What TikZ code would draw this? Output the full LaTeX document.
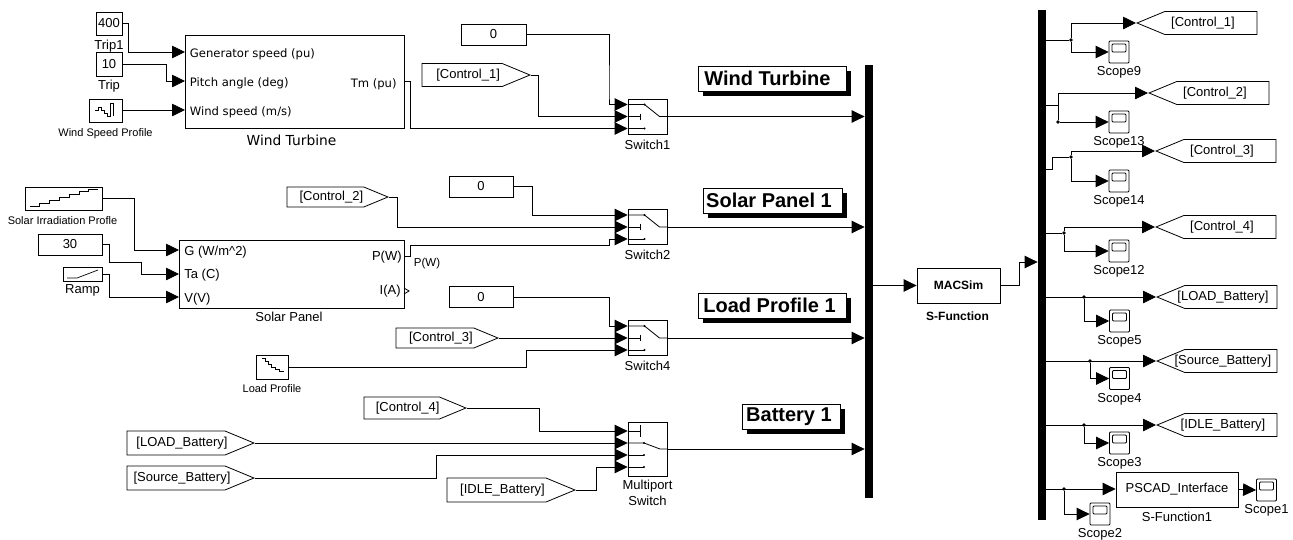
\documentclass[tikz,border=0pt]{standalone}
\usepackage{fontspec}
\setmainfont{Liberation Sans}
\newfontfamily\dvfont{DejaVu Sans}
\usetikzlibrary{positioning,arrows.meta,calc,shapes.symbols}
\newcommand{\fromtxt}[1]{\makebox[0pt]{\hspace{12pt}#1}}
\newcommand{\gototxt}[1]{\makebox[0pt]{#1\hspace{16pt}}}
\begin{document}
\begin{tikzpicture}[
  x=1pt, y=-1pt,
  font=\fontsize{13}{15}\selectfont,
  >={Triangle[length=13pt,width=12.5pt]},
  line width=0.8pt,
  block/.style={draw, minimum width=#1, inner sep=0pt, align=center},
  title/.style={draw, fill=white, inner sep=0pt, font=\fontsize{20}{22}\selectfont\bfseries},
  shadowbox/.style={fill=black},
  capt/.style={inner sep=0pt, align=center},
  smallcapt/.style={capt, font=\fontsize{11}{13}\selectfont},
  turbport/.style={inner sep=0pt, font=\dvfont\fontsize{11.6}{13}\selectfont},
  solarport/.style={inner sep=0pt, font=\fontsize{13}{15}\selectfont},
  bus/.style={fill=black, minimum width=8pt, inner sep=0pt},
  dot/.style={circle, fill=black, inner sep=0pt, minimum size=3.6pt},
  fromtag/.style={signal, signal to=east, signal from=nowhere, signal pointer angle=45, draw, inner sep=0pt, anchor=east},
  gototag/.style={signal, signal to=west, signal from=nowhere, signal pointer angle=45, draw, inner sep=0pt, anchor=west},
  scopebox/.style={draw, rounded corners=1pt, minimum width=20pt, minimum height=22pt, inner sep=0pt,
    path picture={\draw ([shift={(3,3)}]path picture bounding box.north west) rectangle ([shift={(-3,11)}]path picture bounding box.north east);}},
  switchbox/.style={draw, minimum width=39pt, minimum height=35pt, inner sep=0pt},
  arr/.style={->},
  swicon/.pic={
    \draw (-19.5,-12) -- (-3,-12) -- (12,0) -- (19.5,0);
    \draw (-19.5,0) -- (-7,0) (-7,-3) -- (-7,3);
    \draw (-19.5,12) -- (-3,12);
    \fill (-3,-12) circle (1.2) (-3,12) circle (1.2);
  },
]
\useasboundingbox (0,0) rectangle (1293,539);

% Wind turbine inputs
\node[block=26pt, minimum height=23pt] (tripone) at (109,23.5) {400};
\node[capt, below=4pt of tripone] (triponelbl) {Trip1};
\node[block=26pt, minimum height=24pt] (trip) at (109,64) {10};
\node[capt, below=3pt of trip] (triplbl) {Trip};
\node[block=33pt, minimum height=23pt] (windprof) at (105.5,110.5) {};
\draw[line width=0.7pt] (95,110) -- ++(3,0) -- ++(0,-3) -- ++(3,0) -- ++(0,3) -- ++(3,0) -- ++(0,3) -- ++(3,0) -- ++(0,3) -- ++(3,0) -- ++(0,-13) -- ++(3,0) -- ++(0,13);
\node[smallcapt, below=6pt of windprof] (windproflbl) {Wind Speed Profile};

% Wind turbine block
\node[block=219pt, minimum height=93pt] (turbine) at (294.5,81.5) {};
\node[capt, font=\dvfont\fontsize{13.8}{15}\selectfont, below=6pt of turbine, xshift=-3pt] (turbinelbl) {Wind Turbine};
\node[turbport, anchor=west] (genport) at (189.5,54) {Generator speed (pu)};
\node[turbport, anchor=west] (pitchport) at (189.5,83) {Pitch angle (deg)};
\node[turbport, anchor=west] (speedport) at (189.5,112) {Wind speed (m/s)};
\node[turbport, anchor=east] (tmport) at (397,84) {Tm (pu)};
\coordinate (genin) at (185,52);
\coordinate (pitchin) at (185,81);
\coordinate (speedin) at (185,110);
\coordinate (tmout) at (404,81);
\draw[arr] (tripone.east) -- ++(6,0) |- (genin);
\draw[arr] (trip.east) -- ++(44,0) |- (pitchin);
\draw[arr] (windprof.east |- speedin) -- (speedin);

% Switch1
\node[block=65pt, minimum height=21pt] (zeroone) at (493.5,34.5) {0};
\node[fromtag, minimum width=108pt, minimum height=23pt] (ctrlone) at (531,75) {\fromtxt{[Control\_1]}};
\node[switchbox] (swone) at (647.5,116.5) {};
\pic at (swone.center) {swicon};
\node[capt, below=5pt of swone] (swonelbl) {Switch1};
\draw[arr] (zeroone.east) -| (609,95) |- ([yshift=12pt]swone.west);
\draw[arr] (ctrlone.east) -- ++(7,0) |- (swone.west);
\draw[arr] (tmout) -- ++(6,0) |- ([yshift=-12pt]swone.west);

% Solar panel inputs
\node[block=77pt, minimum height=23pt] (irrad) at (63.5,198.5) {};
\draw[line width=0.7pt] (30,206) -- ++(9,0) -- ++(0,-3) -- ++(10,0) -- ++(0,-3) -- ++(10,0) -- ++(0,-3) -- ++(10,0) -- ++(0,-3) -- ++(10,0) -- ++(0,-3) -- ++(9,0) -- ++(0,-2) -- ++(10,0);
\node[smallcapt, below=6pt of irrad, xshift=-1pt] (irradlbl) {Solar Irradiation Profle};
\node[block=64pt, minimum height=21pt] (tempc) at (70,244.5) {30};
\node[block=39pt, minimum height=14pt] (ramp) at (82.5,274) {};
\draw[line width=0.7pt] (67,278) -- (77,278) -- (98,270);
\node[capt, below=3pt of ramp] (ramplbl) {Ramp};

% Solar panel block
\node[block=225pt, minimum height=68pt] (solar) at (291.5,274) {};
\node[capt, font=\fontsize{13}{15}\selectfont, below=3pt of solar, xshift=-2.5pt] (solarlbl) {Solar Panel};
\node[solarport, anchor=west] (gport) at (184,252) {G (W/m\textasciicircum 2)};
\node[solarport, anchor=west] (taport) at (184,275) {Ta (C)};
\node[solarport, anchor=west] (vport) at (184,299) {V(V)};
\node[solarport, anchor=east] (pport) at (402,257) {P(W)};
\node[solarport, anchor=east] (iport) at (401,291) {I(A)};
\coordinate (gin) at (179,250);
\coordinate (tain) at (179,274);
\coordinate (vin) at (179,297);
\coordinate (pout) at (404,256);
\draw[arr] (irrad.east) -- ++(32,0) |- (gin);
\draw[arr] (tempc.east) -- ++(7,0) |- (141,262) |- (tain);
\draw[arr] (ramp.east) -- ++(7,0) |- (vin);
\draw (404,288) -- (409,291) -- (404,294);
\node[capt, font=\fontsize{11.5}{13}\selectfont] (pwlbl) at (427,264) {P(W)};

% Switch2
\node[block=64pt, minimum height=21pt] (zerotwo) at (481,186.5) {0};
\node[fromtag, minimum width=101pt, minimum height=20pt] (ctrltwo) at (389,197) {\fromtxt{[Control\_2]}};
\node[switchbox] (swtwo) at (647.5,227) {};
\pic at (swtwo.center) {swicon};
\node[capt, below=5pt of swtwo] (swtwolbl) {Switch2};
\draw[arr] (zerotwo.east) -- ++(19,0) |- ([yshift=12pt]swtwo.west);
\draw[arr] (ctrltwo.east) -- ++(8,0) |- (swtwo.west);
\draw[arr] (pout) -- ++(6,0) |- (609,245) |- ([yshift=-12pt]swtwo.west);

% Switch4
\node[block=64pt, minimum height=21pt] (zerothree) at (481,297) {0};
\node[fromtag, minimum width=102pt, minimum height=20pt] (ctrlthree) at (499,338) {\fromtxt{[Control\_3]}};
\node[block=32pt, minimum height=24pt] (loadprof) at (272,367) {};
\draw[line width=0.7pt] (262,358) -- ++(3,0) -- ++(0,3) -- ++(3,0) -- ++(0,3) -- ++(3,0) -- ++(0,3) -- ++(4,0) -- ++(0,2) -- ++(4,0) -- ++(0,2) -- ++(4,0) -- ++(0,1);
\node[smallcapt, below=5pt of loadprof] (loadproflbl) {Load Profile};
\node[switchbox] (swfour) at (647.5,338) {};
\pic at (swfour.center) {swicon};
\node[capt, below=5pt of swfour] (swfourlbl) {Switch4};
\draw[arr] (zerothree.east) -- ++(96,0) |- ([yshift=12pt]swfour.west);
\draw[arr] (ctrlthree.east) -- (swfour.west);
\draw[arr] (loadprof.east) -- ++(238,0) |- ([yshift=-12pt]swfour.west);

% Multiport switch
\node[fromtag, minimum width=102pt, minimum height=22pt] (ctrlfour) at (467,408) {\fromtxt{[Control\_4]}};
\node[fromtag, minimum width=127pt, minimum height=24pt] (loadbat) at (255,443) {\fromtxt{[LOAD\_Battery]}};
\node[fromtag, minimum width=127pt, minimum height=24pt] (sourcebat) at (255,478) {\fromtxt{[Source\_Battery]}};
\node[fromtag, minimum width=128pt, minimum height=24pt] (idlebat) at (576,490) {\fromtxt{[IDLE\_Battery]}};
\node[draw, minimum width=39pt, minimum height=54pt, inner sep=0pt] (multi) at (647.5,449) {};
\draw (multi.west |- 0,431) -- (640,431) (640,425) -- (640,437);
\draw (multi.west |- 0,443) -- (644,443) -- (660,449) -- (multi.east);
\draw (multi.west |- 0,455) -- (644,455) (multi.west |- 0,467) -- (644,467);
\fill (644,443) circle (1.2) (644,455) circle (1.2) (644,467) circle (1.2);
\node[capt, below=3pt of multi] (multilbl) {Multiport\\[1pt]Switch};
\draw[arr] (ctrlfour.east) -- ++(72,0) |- (multi.west |- 0,431);
\draw[arr] (loadbat.east) -- (multi.west |- loadbat.east);
\draw[arr] (sourcebat.east) -- ++(181,0) |- (multi.west |- 0,455);
\draw[arr] (idlebat.east) -- ++(20,0) |- (multi.west |- 0,467);

% First bus
\node[bus, minimum height=433pt] (busa) at (869,281.5) {};
\draw[arr] (swone.east) -- (swone.east -| busa.west);
\draw[arr] (swtwo.east) -- (swtwo.east -| busa.west);
\draw[arr] (swfour.east) -- (swfour.east -| busa.west);
\draw[arr] (multi.east) -- (multi.east -| busa.west);

% Titles
\fill[shadowbox] (703,71) rectangle (851,96);
\node[title, minimum width=148pt, minimum height=25pt] (titleone) at (772,78.5) {Wind Turbine\kern9pt};
\fill[shadowbox] (708,193) rectangle (847,218);
\node[title, minimum width=139pt, minimum height=25pt] (titletwo) at (772.5,200.5) {Solar Panel 1\kern7pt};
\fill[shadowbox] (703,298) rectangle (851,323);
\node[title, minimum width=148pt, minimum height=25pt] (titlethree) at (772,305.5) {Load Profile 1\kern5pt};
\fill[shadowbox] (747,409) rectangle (845,434);
\node[title, minimum width=98pt, minimum height=25pt] (titlefour) at (791,416.5) {Battery 1\kern4pt};

% S-Function
\node[block=83pt, minimum height=35pt, font=\fontsize{12}{14}\selectfont\bfseries] (macsim) at (958.5,285.5) {\raisebox{-3pt}{MACSim}};
\node[capt, font=\fontsize{12}{14}\selectfont\bfseries, below=8pt of macsim, xshift=-1pt] (macsimlbl) {S-Function};

% Second bus
\node[bus, minimum height=510pt] (busb) at (1042,265) {};
\draw[arr] (busa.east |- macsim.west) -- (macsim.west);
\draw[arr] (macsim.east) -- ++(19,0) |- (busb.west |- 0,262);

% Control_1 branch
\node[gototag, minimum width=120pt, minimum height=23pt] (gotoone) at (1136,23) {\gototxt{[Control\_1]}};
\node[scopebox] (scopenine) at (1119,52) {};
\node[capt, below=3pt of scopenine] (scopeninelbl) {Scope9};
\node[dot] (jone) at (1071,40) {};
\draw (jone -| busb.east) -- (jone);
\draw[arr] (jone) |- (gotoone.west);
\draw[arr] (jone) |- (scopenine.west);

% Control_2 branch
\node[gototag, minimum width=120pt, minimum height=23pt] (gototwo) at (1148,93) {\gototxt{[Control\_2]}};
\node[scopebox] (scopethirteen) at (1119,122) {};
\node[capt, below=3pt of scopethirteen] (scopethirteenlbl) {Scope13};
\node[dot] (jtwo) at (1058,122) {};
\coordinate (sttwo) at (1058,105);
\draw (sttwo -| busb.east) -- (sttwo);
\draw[arr] (jtwo) |- (gototwo.west);
\draw[arr] (jtwo) -- (scopethirteen.west);

% Control_3 branch
\node[gototag, minimum width=120pt, minimum height=23pt] (gotothree) at (1155,151) {\gototxt{[Control\_3]}};
\node[scopebox] (scopefourteen) at (1119,181) {};
\node[capt, below=3pt of scopefourteen] (scopefourteenlbl) {Scope14};
\node[dot] (jthree) at (1071,157) {};
\coordinate (stthree) at (1052,169);
\draw (stthree -| busb.east) -- (stthree) |- (jthree);
\draw[arr] (jthree) |- (gotothree.west);
\draw[arr] (jthree) |- (scopefourteen.west);

% Control_4 branch
\node[gototag, minimum width=120pt, minimum height=23pt] (gotofour) at (1155,227) {\gototxt{[Control\_4]}};
\node[scopebox] (scopetwelve) at (1119,251) {};
\node[capt, below=3pt of scopetwelve] (scopetwelvelbl) {Scope12};
\node[dot] (jfour) at (1064,233) {};
\draw (jfour -| busb.east) -- (jfour);
\draw[arr] (jfour) |- (gotofour.west);
\draw[arr] (jfour) |- (scopetwelve.west);

% Battery branches
\node[gototag, minimum width=120pt, minimum height=23pt] (gotoload) at (1156,297) {\gototxt{[LOAD\_Battery]}};
\node[scopebox] (scopefive) at (1119.5,321) {};
\node[capt, below=3pt of scopefive] (scopefivelbl) {Scope5};
\node[dot] (jfive) at (1084,297) {};
\draw[arr] (jfive -| busb.east) -- (gotoload.west);
\draw[arr] (jfive) |- (scopefive.west);

\node[gototag, minimum width=120pt, minimum height=23pt] (gotosource) at (1156,361) {\gototxt{[Source\_Battery]}};
\node[scopebox] (scopefour) at (1119.5,378.5) {};
\node[capt, below=3pt of scopefour] (scopefourlbl) {Scope4};
\node[dot] (jsix) at (1090,361) {};
\draw[arr] (jsix -| busb.east) -- (gotosource.west);
\draw[arr] (jsix) |- (scopefour.west);

\node[gototag, minimum width=120pt, minimum height=23pt] (gotoidle) at (1156,425) {\gototxt{[IDLE\_Battery]}};
\node[scopebox] (scopethree) at (1119.5,443) {};
\node[capt, below=3pt of scopethree] (scopethreelbl) {Scope3};
\node[dot] (jseven) at (1084,425) {};
\draw[arr] (jseven -| busb.east) -- (gotoidle.west);
\draw[arr] (jseven) |- (scopethree.west);

% PSCAD interface
\node[block=122pt, minimum height=35pt] (pscad) at (1177,489.5) {PSCAD\_Interface};
\node[capt, below=4pt of pscad] (pscadlbl) {S-Function1};
\node[scopebox] (scopeone) at (1266.5,490) {};
\node[capt, below=3pt of scopeone] (scopeonelbl) {Scope1};
\node[scopebox] (scopetwo) at (1100,514) {};
\node[capt, below=3pt of scopetwo] (scopetwolbl) {Scope2};
\node[dot] (jeight) at (1064,489) {};
\draw[arr] (jeight -| busb.east) -- (jeight -| pscad.west);
\draw[arr] (jeight) |- (scopetwo.west);
\draw[arr] (pscad.east) -- (scopeone.west);

\end{tikzpicture}
\end{document}
